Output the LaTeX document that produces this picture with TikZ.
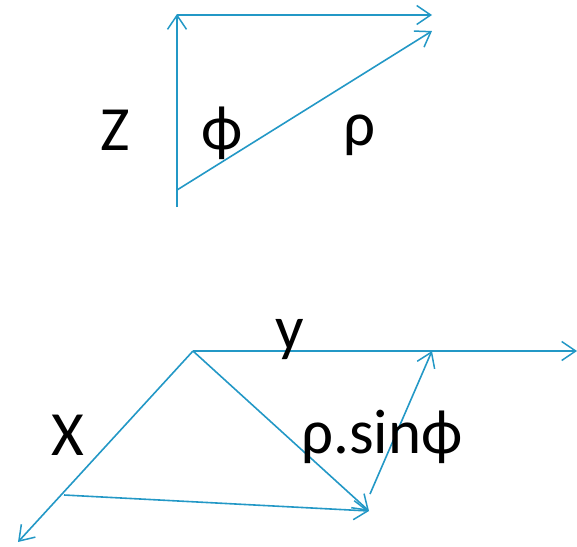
\documentclass[tikz,border=0pt]{standalone}
\usepackage{fontspec}
\setmainfont{Carlito}
\usetikzlibrary{arrows.meta}
\definecolor{axblue}{RGB}{35,152,198}
\begin{document}
\begin{tikzpicture}[x=1pt,y=-1pt,
  vec/.style={draw=axblue,line width=1.6pt,-{Straight Barb[length=14pt,width=19pt,line width=1.5pt]}},
  lbl/.style={font=\fontsize{63}{66}\selectfont,inner sep=0pt,text=black}]
\useasboundingbox (0,0) rectangle (577,546);
% top figure
\coordinate (zb) at (177,207);
\coordinate (zt) at (177,14);
\coordinate (zc) at (177,15);
\coordinate (ze) at (432,15);
\coordinate (ro) at (177,190);
\coordinate (rt) at (432,31);
\draw[vec] (zb) -- (zt);
\draw[vec] (zc) -- (ze);
\draw[vec] (ro) -- (rt);
\node[lbl] (Z) at (115,130) {Z};
\node[lbl] (phi) at (222,133) {ϕ};
\node[lbl] (rho) at (360,135) {ρ};
% bottom figure
\coordinate (o) at (193,351);
\coordinate (ye) at (577,351);
\coordinate (xe) at (18,542);
\coordinate (p) at (369,511);
\coordinate (q0) at (64,495);
\coordinate (s0) at (370,494);
\coordinate (s1) at (432,351);
\draw[vec] (o) -- (ye);
\draw[vec] (o) -- (xe);
\draw[vec] (o) -- (p);
\draw[vec] (q0) -- (p);
\draw[vec] (s0) -- (s1);
\node[lbl] (y) at (290,340) {y};
\node[lbl] (X) at (68,435) {X};
\node[lbl] (rs) at (382,437) {ρ.sinϕ};
\end{tikzpicture}
\end{document}
